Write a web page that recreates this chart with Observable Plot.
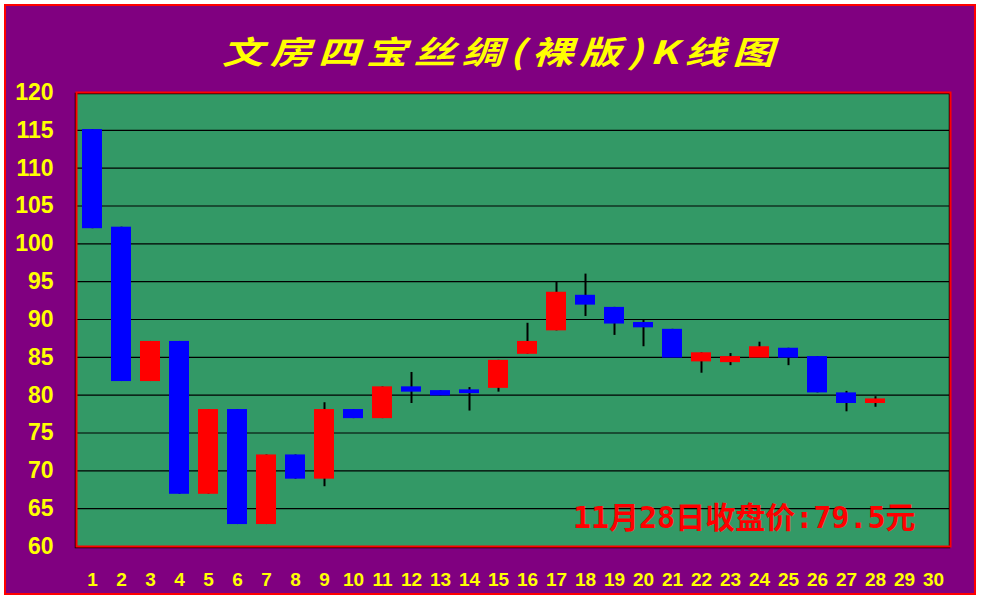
<!DOCTYPE html>
<html>
<head>
<meta charset="utf-8">
<script src="https://cdn.jsdelivr.net/npm/d3@7"></script>
<script src="https://cdn.jsdelivr.net/npm/@observablehq/plot@0.6"></script>
<style>
  html, body { margin: 0; padding: 0; background: #ffffff; }
  #wrap { position: relative; width: 981px; height: 600px; overflow: hidden; background: #ffffff; }
  #panel { position: absolute; left: 4px; top: 4px; width: 968px; height: 587px; border: 2px solid #ff0000; background: #800080; }
  #title { position: absolute; left: 501px; top: 28px; transform: translateX(-50%) scaleX(1.295); white-space: nowrap;
           font-family: "Noto Sans CJK SC", sans-serif; font-size: 32px; font-weight: 700; font-style: italic;
           letter-spacing: 5px; color: #ffff00; line-height: 44px; }
  #chart { position: absolute; left: 0; top: 70px; }
</style>
</head>
<body>
<div id="wrap">
  <div id="panel"></div>
  <div id="title">文房四宝丝绸(裸版)K线图</div>
  <div id="chart"></div>
</div>
<script>
const xLabels = d3.range(1, 31).map(String);
const days  = d3.range(1, 29).map(String);
const open  = [115.1, 102.2, 81.8, 87.1, 66.9, 78.1, 62.9, 72.1, 68.9, 78.1, 76.9, 81.1, 80.6, 80.7, 80.9, 85.4, 88.5, 93.2, 91.6, 89.6, 88.7, 84.4, 84.3, 84.9, 86.2, 85.1, 80.3, 78.9];
const close = [102.0, 81.8, 87.1, 66.9, 78.1, 62.9, 72.1, 68.9, 78.1, 76.9, 81.1, 80.4, 79.9, 80.2, 84.6, 87.1, 93.6, 91.9, 89.4, 88.9, 84.9, 85.6, 85.1, 86.4, 84.9, 80.3, 78.9, 79.5];
const high  = [115.1, 102.2, 87.1, 87.1, 78.1, 78.1, 72.1, 72.1, 79.0, 78.1, 81.1, 83.0, 80.6, 81.0, 84.6, 89.5, 95.0, 96.0, 91.6, 89.9, 88.7, 85.6, 85.5, 87.0, 86.2, 85.1, 80.5, 79.8];
const low   = [102.0, 81.8, 81.8, 66.9, 66.9, 62.9, 62.9, 68.9, 67.9, 76.9, 76.9, 78.9, 79.9, 77.9, 80.4, 85.4, 88.5, 90.4, 87.9, 86.4, 84.9, 82.9, 83.9, 84.9, 83.9, 80.3, 77.8, 78.4];
const yTicks = d3.range(60, 121, 5);
const gridLines = d3.range(65, 120, 5);
const note = "11月28日收盘价:79.5元";

const candles = days.map((d, i) => ({
  day: d, open: open[i], close: close[i], high: high[i], low: low[i],
  color: close[i] > open[i] ? "#ff0000" : "#0000ff"
}));

const chart = Plot.plot({
  width: 981,
  height: 530,
  marginTop: 22,
  marginBottom: 54,
  marginLeft: 76,
  marginRight: 31,
  style: { background: "transparent", overflow: "visible", fontFamily: "'Liberation Sans', Arial, sans-serif" },
  x: { type: "band", domain: xLabels, paddingInner: 0.31, paddingOuter: 0.155 },
  y: { domain: [60, 120] },
  marks: [
    Plot.frame({ fill: "#339966", stroke: null }),
    Plot.ruleY(gridLines, { stroke: "#000000", strokeWidth: 1.2 }),
    Plot.frame({ stroke: "#000000", strokeWidth: 1.5, dx: -1, dy: 1 }),
    Plot.frame({ stroke: "#ff0000", strokeWidth: 2 }),
    Plot.ruleX(candles, { x: "day", y1: "low", y2: "high", stroke: "#000000", strokeWidth: 2 }),
    Plot.barY(candles, { x: "day", y1: "open", y2: "close", fill: "color" }),
    Plot.axisY({ ticks: yTicks, tickSize: 0, tickPadding: 23, color: "#ffff00", fontSize: 23, fontWeight: "bold", label: null }),
    Plot.axisX({ tickSize: 0, tickPadding: 26, color: "#ffff00", fontSize: 19, fontWeight: "bold", label: null }),
    Plot.text([note], { text: d => d, frameAnchor: "bottom-right", dx: -35, dy: -28, textAnchor: "end", lineAnchor: "middle",
      fill: "#ff0000", fontSize: 30, fontWeight: "bold", fontFamily: "'DejaVu Sans Mono', 'Noto Sans CJK SC', monospace" })
  ]
});
document.getElementById("chart").appendChild(chart);
</script>
</body>
</html>
